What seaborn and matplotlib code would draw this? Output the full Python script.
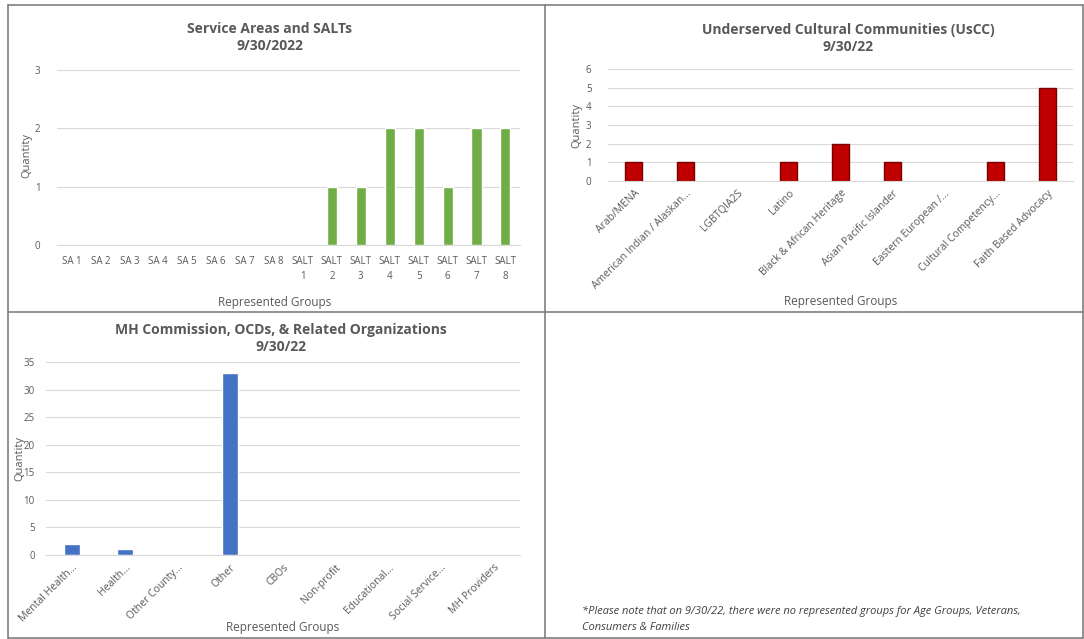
import matplotlib
matplotlib.use("Agg")
import matplotlib.pyplot as plt
import seaborn as sns
import pandas as pd
from matplotlib.lines import Line2D

# data
sa_labels = ["SA 1", "SA 2", "SA 3", "SA 4", "SA 5", "SA 6", "SA 7", "SA 8",
             "SALT\n1", "SALT\n2", "SALT\n3", "SALT\n4", "SALT\n5", "SALT\n6", "SALT\n7", "SALT\n8"]
sa_values = [0, 0, 0, 0, 0, 0, 0, 0, 0, 1, 1, 2, 2, 1, 2, 2]

uscc_labels = ["Arab/MENA", "American Indian / Alaskan...", "LGBTQIA2S", "Latino",
               "Black & African Heritage", "Asian Pacific Islander", "Eastern European /...",
               "Cultural Competency...", "Faith Based Advocacy"]
uscc_values = [1, 1, 0, 1, 2, 1, 0, 1, 5]

mh_labels = ["Mental Health...", "Health...", "Other County...", "Other", "CBOs",
             "Non-profit", "Educational...", "Social Service...", "MH Providers"]
mh_values = [2, 1, 0, 33, 0, 0, 0, 0, 0]

note = ("*Please note that on 9/30/22, there were no represented groups for Age Groups, Veterans,\n"
        "Consumers & Families")

sns.set_theme(style="white")
plt.rcParams['font.family'] = ['Open Sans', 'DejaVu Sans']

txt = "#595959"
grid = "#d9d9d9"

fig = plt.figure(figsize=(10.84, 6.39), dpi=100)
fig.patch.set_facecolor("white")


def style_axes(ax, ymax, step, title, tx, pad, ylab_xy, xlab_xy):
    ax.set_ylim(0, ymax)
    ax.set_yticks(range(0, ymax + 1, step))
    ax.yaxis.grid(True, color=grid, linewidth=0.8)
    ax.set_axisbelow(True)
    for s in ["top", "right", "left"]:
        ax.spines[s].set_visible(False)
    ax.spines["bottom"].set_color(grid)
    ax.spines["bottom"].set_linewidth(0.8)
    ax.tick_params(axis="both", length=0, labelsize=7, labelcolor=txt)
    ax.set_ylabel("Quantity", fontsize=8, color=txt)
    ax.set_xlabel("Represented Groups", fontsize=8.5, color=txt)
    ax.yaxis.set_label_coords(*ylab_xy)
    ax.xaxis.set_label_coords(*xlab_xy)
    ax.set_title(title, fontsize=10, fontweight="bold", color=txt,
                 linespacing=1.3, pad=pad, x=tx)


# top left - service areas
ax1 = fig.add_axes([0.0526, 0.6166, 0.427, 0.274])
df1 = pd.DataFrame({"group": sa_labels, "qty": sa_values})
sns.barplot(data=df1, x="group", y="qty", color="#70AD47", saturation=1, width=0.35, ax=ax1)
style_axes(ax1, 3, 1, "Service Areas and SALTs\n9/30/2022", 0.46, 14,
           (-0.053, 0.51), (0.47, -0.29))
ax1.tick_params(axis="y", pad=12)
ax1.tick_params(axis="x", pad=8)
plt.setp(ax1.get_xticklabels(), linespacing=1.5)

# top right - UsCC
ax2 = fig.add_axes([0.561, 0.7167, 0.429, 0.175])
df2 = pd.DataFrame({"group": uscc_labels, "qty": uscc_values})
sns.barplot(data=df2, x="group", y="qty", color="#C00000", saturation=1, width=0.33, ax=ax2)
for p, v in zip(ax2.patches, uscc_values):
    if v > 0:
        p.set_edgecolor("#7a0000")
        p.set_linewidth(1)
style_axes(ax2, 6, 1, "Underserved Cultural Communities (UsCC)\n9/30/22", 0.516, 13,
           (-0.056, 0.5), (0.5, -1.02))
ax2.tick_params(axis="y", pad=12)
ax2.tick_params(axis="x", pad=5)
plt.setp(ax2.get_xticklabels(), rotation=45, ha="right", rotation_mode="anchor", fontsize=7.5)

# bottom left - MH commission
ax3 = fig.add_axes([0.0424, 0.1315, 0.437, 0.302])
df3 = pd.DataFrame({"group": mh_labels, "qty": mh_values})
sns.barplot(data=df3, x="group", y="qty", color="#4472C4", saturation=1, width=0.31, ax=ax3)
style_axes(ax3, 35, 5, "MH Commission, OCDs, & Related Organizations\n9/30/22", 0.496, 8,
           (-0.044, 0.5), (0.5, -0.34))
ax3.tick_params(axis="y", pad=8)
ax3.tick_params(axis="x", pad=5)
plt.setp(ax3.get_xticklabels(), rotation=45, ha="right", rotation_mode="anchor", fontsize=7.5)

# note in the empty panel
fig.text(0.537, 1 - 606 / 639, note, fontsize=8, style="italic", color="#404040",
         linespacing=1.6, ha="left", va="top")

# panel borders
bc = "#7f7f7f"
x0, x1 = 8 / 1084, 1083 / 1084
y0, y1 = 1 - 638 / 639, 1 - 5 / 639
xm, ym = 545 / 1084, 1 - 312 / 639
for xs, ys in [([x0, x1], [y1, y1]), ([x0, x1], [y0, y0]), ([x0, x0], [y0, y1]),
               ([x1, x1], [y0, y1]), ([xm, xm], [y0, y1]), ([x0, x1], [ym, ym])]:
    fig.add_artist(Line2D(xs, ys, color=bc, linewidth=1.2, transform=fig.transFigure))

fig.savefig("out.png", dpi=100)
plt.close(fig)
